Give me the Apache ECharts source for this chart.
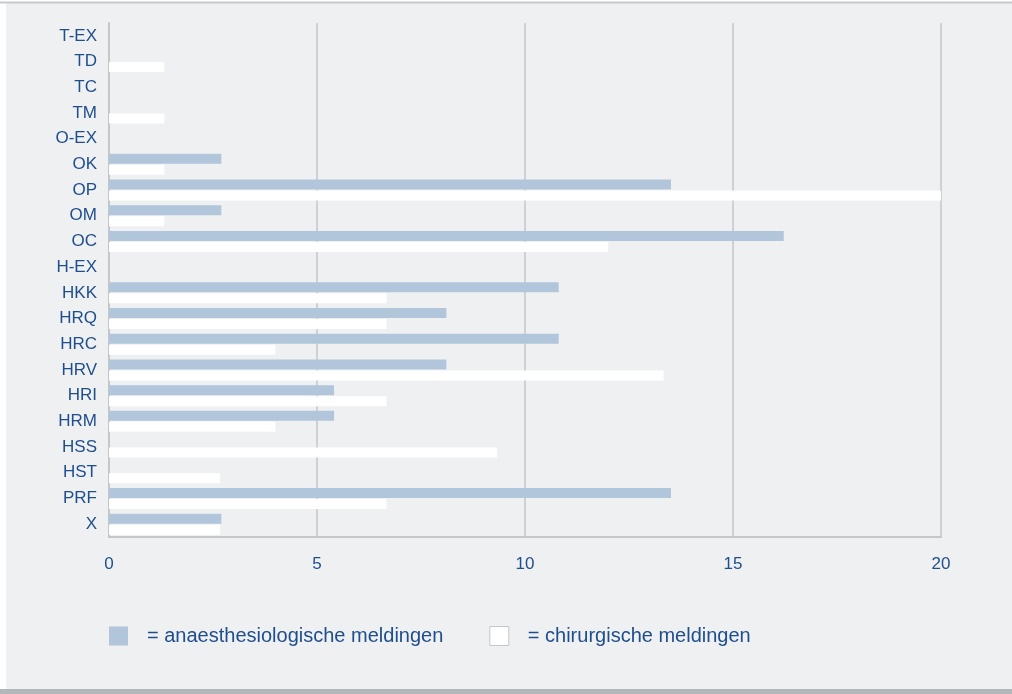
<!DOCTYPE html>
<html>
<head>
<meta charset="utf-8">
<script src="https://cdn.jsdelivr.net/npm/echarts@6/dist/echarts.min.js"></script>
<style>
  html, body { margin: 0; padding: 0; background: #fff; }
  #chart { width: 1012px; height: 694px; }
</style>
</head>
<body>
<div id="chart"></div>
<script>
const categories = ['T-EX', 'TD', 'TC', 'TM', 'O-EX', 'OK', 'OP', 'OM', 'OC', 'H-EX', 'HKK', 'HRQ', 'HRC', 'HRV', 'HRI', 'HRM', 'HSS', 'HST', 'PRF', 'X']
const anaesthesiologisch = [0, 0, 0, 0, 0, 2.7, 13.51, 2.7, 16.22, 0, 10.81, 8.11, 10.81, 8.11, 5.41, 5.41, 0, 0, 13.51, 2.7]
const chirurgisch = [0, 1.33, 0, 1.33, 0, 1.33, 20, 1.33, 12, 0, 6.67, 6.67, 4, 13.33, 6.67, 4, 9.33, 2.67, 6.67, 2.67]
const xTicks = [0, 5, 10, 15, 20]

const BLUE = '#1f4e8c'
const FONT = 'Liberation Sans, Arial, sans-serif'

const chart = echarts.init(document.getElementById('chart'))
chart.setOption({
  backgroundColor: '#fff',
  animation: false,
  graphic: [
    // panel
    { type: 'rect', z: -10, shape: { x: 6, y: 3, width: 1006, height: 686 }, style: { fill: '#eff0f2' } },
    { type: 'line', z: -9, shape: { x1: 0, y1: 2.5, x2: 1012, y2: 2.5 }, style: { stroke: '#c8cacc', lineWidth: 2 } },
    { type: 'rect', z: -9, shape: { x: 0, y: 689, width: 1012, height: 5 }, style: { fill: '#b3b7ba' } }
  ],
  grid: { left: 109, right: 71, top: 23, bottom: 157 },
  legend: {
    left: 109,
    top: 626,
    padding: 0,
    icon: 'rect',
    itemWidth: 19,
    itemHeight: 19,
    itemGap: 46,
    data: [
      { name: 'anaesthesiologische meldingen' },
      { name: 'chirurgische meldingen', itemStyle: { borderColor: '#c4c6c8', borderWidth: 1 } }
    ],
    formatter: name => '= ' + name,
    textStyle: { color: BLUE, fontSize: 20, fontFamily: FONT, padding: [2, 0, 0, 14] }
  },
  xAxis: {
    type: 'value',
    min: 0,
    max: 20,
    interval: 5,
    axisLine: { show: true, lineStyle: { color: '#c4c6c8', width: 2 } },
    axisTick: { show: false },
    splitLine: { show: true, lineStyle: { color: '#c4c6c8', width: 1.5 } },
    axisLabel: {
      color: BLUE,
      fontSize: 17,
      fontFamily: FONT,
      margin: 19,
      customValues: xTicks
    }
  },
  yAxis: {
    type: 'category',
    inverse: true,
    data: categories,
    axisLine: { show: true, lineStyle: { color: '#c4c6c8', width: 2 } },
    axisTick: { show: false },
    axisLabel: { color: BLUE, fontSize: 17, fontFamily: FONT, margin: 12 }
  },
  series: [
    {
      name: 'anaesthesiologische meldingen',
      type: 'bar',
      data: anaesthesiologisch,
      barWidth: 10,
      barGap: '10%',
      itemStyle: { color: '#b1c5db' }
    },
    {
      name: 'chirurgische meldingen',
      type: 'bar',
      data: chirurgisch,
      barWidth: 10,
      barGap: '10%',
      itemStyle: { color: '#ffffff' }
    }
  ]
})
</script>
</body>
</html>
